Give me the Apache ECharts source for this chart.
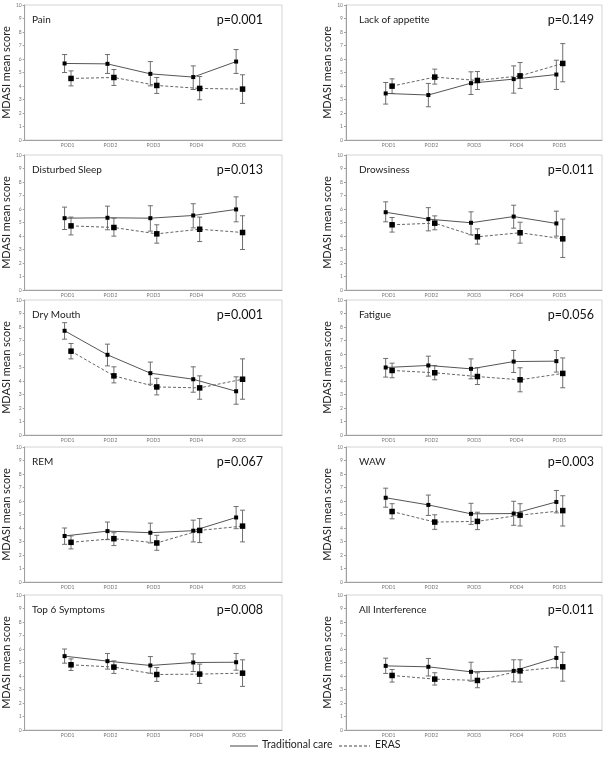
<!DOCTYPE html>
<html><head><meta charset="utf-8">
<script src="https://cdn.jsdelivr.net/npm/echarts@6/dist/echarts.min.js"></script>
<style>html,body{margin:0;padding:0;background:#fff}#c{width:612px;height:763px}</style>
</head><body><div id="c"></div>
<script>
const categories = ['POD1','POD2','POD3','POD4','POD5'];
const yTicks = [0,1,2,3,4,5,6,7,8,9,10];
const panelTitles = ['Pain','Lack of appetite','Disturbed Sleep','Drowsiness','Dry Mouth','Fatigue','REM','WAW','Top 6 Symptoms','All Interference'];
const pValues = ['p=0.001','p=0.149','p=0.013','p=0.011','p=0.001','p=0.056','p=0.067','p=0.003','p=0.008','p=0.011'];
const seriesNames = ['Traditional care','ERAS'];

const tradMean = [
  [5.67,5.64,4.90,4.66,5.81],
  [3.45,3.33,4.21,4.51,4.85],
  [5.32,5.35,5.32,5.52,5.97],
  [5.76,5.25,4.98,5.44,4.93],
  [7.72,5.94,4.58,4.13,3.24],
  [5.00,5.15,4.90,5.44,5.47],
  [3.41,3.77,3.65,3.80,4.78],
  [6.24,5.71,5.05,5.07,5.93],
  [5.47,5.10,4.78,5.00,5.02],
  [4.75,4.68,4.31,4.38,5.34]
];
const tradLow = [
  [5.00,4.93,4.01,3.74,4.93],
  [2.66,2.46,3.37,3.47,3.74],
  [4.48,4.46,4.36,4.60,5.05],
  [5.05,4.38,4.09,4.58,3.99],
  [7.10,5.12,3.76,3.17,2.28],
  [4.29,4.36,4.16,4.63,4.66],
  [2.79,3.14,2.89,2.97,3.95],
  [5.54,4.93,4.27,4.20,5.12],
  [4.95,4.51,4.21,4.33,4.43],
  [4.19,4.00,3.62,3.57,4.60]
];
const tradHigh = [
  [6.33,6.33,5.81,5.49,6.70],
  [4.26,4.19,5.05,5.49,5.91],
  [6.14,6.21,6.24,6.39,6.90],
  [6.53,6.10,5.79,6.28,5.84],
  [8.32,6.73,5.40,5.05,4.31],
  [5.67,5.84,5.64,6.26,6.26],
  [4.00,4.44,4.36,4.58,5.59],
  [6.95,6.44,5.83,5.98,6.78],
  [6.00,5.67,5.44,5.64,5.67],
  [5.32,5.30,5.02,5.20,6.16]
];
const erasMean = [
  [4.56,4.63,4.04,3.82,3.77],
  [3.99,4.66,4.41,4.75,5.67],
  [4.75,4.63,4.16,4.50,4.26],
  [4.83,4.95,3.94,4.24,3.79],
  [6.21,4.38,3.56,3.49,4.13],
  [4.78,4.61,4.33,4.09,4.56],
  [2.94,3.21,2.89,3.82,4.14],
  [5.22,4.44,4.49,4.95,5.29],
  [4.83,4.66,4.11,4.14,4.21],
  [4.04,3.77,3.67,4.38,4.68]
];
const erasLow = [
  [4.01,4.04,3.45,2.98,2.71],
  [3.45,4.14,3.74,3.82,4.31],
  [4.08,3.99,3.47,3.59,3.00],
  [4.29,4.46,3.40,3.47,2.41],
  [5.64,3.86,2.97,2.65,2.65],
  [4.24,4.09,3.74,3.20,3.50],
  [2.45,2.70,2.35,2.92,2.97],
  [4.68,3.90,3.88,4.15,4.15],
  [4.41,4.19,3.60,3.45,3.23],
  [3.55,3.33,3.13,3.55,3.62]
];
const erasHigh = [
  [5.12,5.22,4.63,4.70,4.83],
  [4.53,5.25,5.07,5.74,7.14],
  [5.40,5.32,4.83,5.40,5.50],
  [5.37,5.49,4.53,5.02,5.25],
  [6.78,5.05,4.20,4.38,5.64],
  [5.32,5.15,4.98,4.98,5.71],
  [3.41,3.65,3.46,4.70,5.32],
  [5.80,4.98,5.17,5.80,6.39],
  [5.27,5.12,4.63,4.88,5.20],
  [4.48,4.24,4.24,5.20,5.76]
];

const FONT = 'Lato, "Open Sans", sans-serif';
const colLeft = [21, 346];
const colWidth = [261, 256];
const rowTop = [5, 155, 300, 447, 595];
const plotH = 135;
const offTrad = -0.07, offEras = 0.08;
const pRight = [344, 13];

function errRender(params, api) {
  const x = api.value(0);
  const lo = api.coord([x, api.value(1)]);
  const hi = api.coord([x, api.value(2)]);
  const w = 2.5;
  const st = {stroke: '#6e6e6e', lineWidth: 1};
  return {type: 'group', children: [
    {type: 'line', shape: {x1: lo[0], y1: lo[1], x2: hi[0], y2: hi[1]}, style: st},
    {type: 'line', shape: {x1: lo[0]-w, y1: lo[1], x2: lo[0]+w, y2: lo[1]}, style: st},
    {type: 'line', shape: {x1: hi[0]-w, y1: hi[1], x2: hi[0]+w, y2: hi[1]}, style: st}
  ]};
}

const option = {animation: false, grid: [], xAxis: [], yAxis: [], series: [], title: [], graphic: []};
for (let i = 0; i < panelTitles.length; i++) {
  const col = i % 2, row = Math.floor(i / 2);
  option.grid.push({left: colLeft[col], top: rowTop[row], width: colWidth[col], height: plotH,
    show: true, borderColor: '#d4d4d4', borderWidth: 1});
  option.xAxis.push({gridIndex: i, type: 'value', min: 0, max: 6, interval: 1,
    axisLine: {show: true, onZero: false, lineStyle: {color: '#a0a0a0'}},
    axisTick: {show: false}, splitLine: {show: false},
    axisLabel: {fontSize: 5, color: '#777', margin: 3, fontFamily: FONT,
      formatter: v => categories[v - 1] || ''}});
  option.yAxis.push({gridIndex: i, type: 'value', min: yTicks[0], max: yTicks[yTicks.length-1], interval: 1,
    axisLine: {show: true, lineStyle: {color: '#a0a0a0'}},
    axisTick: {show: true, length: 2, lineStyle: {color: '#a0a0a0'}}, splitLine: {show: false},
    axisLabel: {fontSize: 5, color: '#777', margin: 3, fontFamily: FONT},
    name: 'MDASI mean score', nameLocation: 'middle', nameGap: col === 0 ? 10 : 9,
    nameTextStyle: {fontSize: 11, color: '#222', fontFamily: FONT}});
  option.title.push({text: panelTitles[i], left: colLeft[col] + (col === 0 ? 6 : 8), top: rowTop[row] + 5,
    textStyle: {fontSize: 10, fontWeight: 'normal', color: '#222', fontFamily: FONT}});
  option.title.push({text: pValues[i], right: pRight[col], top: rowTop[row] + 3,
    textStyle: {fontSize: 12.5, fontWeight: 'normal', color: '#111', fontFamily: FONT}});

  option.series.push({type: 'custom', xAxisIndex: i, yAxisIndex: i, renderItem: errRender,
    encode: {x: 0, y: [1, 2]}, z: 1,
    data: tradMean[i].map((v, j) => [j + 1 + offTrad, tradLow[i][j], tradHigh[i][j]])});
  option.series.push({type: 'custom', xAxisIndex: i, yAxisIndex: i, renderItem: errRender,
    encode: {x: 0, y: [1, 2]}, z: 1,
    data: erasMean[i].map((v, j) => [j + 1 + offEras, erasLow[i][j], erasHigh[i][j]])});
  option.series.push({type: 'line', name: seriesNames[0], xAxisIndex: i, yAxisIndex: i, z: 3,
    symbol: 'rect', symbolSize: 4, itemStyle: {color: '#000'},
    lineStyle: {color: '#555', width: 1, type: 'solid'},
    data: tradMean[i].map((v, j) => [j + 1 + offTrad, v])});
  option.series.push({type: 'line', name: seriesNames[1], xAxisIndex: i, yAxisIndex: i, z: 3,
    symbol: 'rect', symbolSize: 5.5, itemStyle: {color: '#000'},
    lineStyle: {color: '#666', width: 1, type: [3, 2]},
    data: erasMean[i].map((v, j) => [j + 1 + offEras, v])});
}
// legend drawn as graphic
option.graphic.push(
  {type: 'line', shape: {x1: 230, y1: 746, x2: 258, y2: 746}, style: {stroke: '#444', lineWidth: 1}},
  {type: 'text', left: 262, top: 739, style: {text: seriesNames[0], fontSize: 10.5, fill: '#222', fontFamily: FONT}},
  {type: 'line', shape: {x1: 339, y1: 746, x2: 370, y2: 746}, style: {stroke: '#444', lineWidth: 1, lineDash: [3, 2]}},
  {type: 'text', left: 375, top: 739, style: {text: seriesNames[1], fontSize: 10.5, fill: '#222', fontFamily: FONT}}
);
const chart = echarts.init(document.getElementById('c'), null, {renderer: 'canvas'});
chart.setOption(option);
</script></body></html>
